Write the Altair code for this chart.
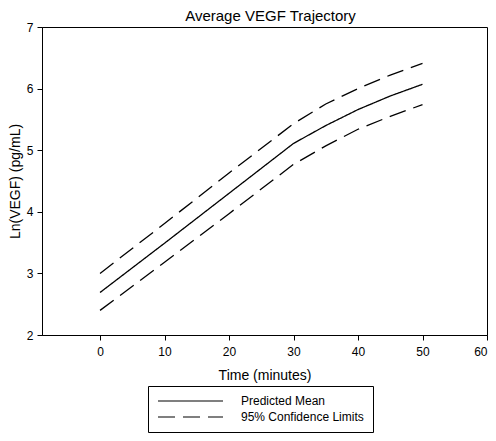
import altair as alt
import pandas as pd

time = [0, 10, 20, 30, 35, 40, 45, 50]
mean = [2.69, 3.49, 4.30, 5.11, 5.40, 5.66, 5.88, 6.07]
upper = [3.00, 3.81, 4.63, 5.43, 5.75, 6.00, 6.22, 6.41]
lower = [2.40, 3.18, 3.97, 4.77, 5.07, 5.34, 5.55, 5.74]
x_ticks = [0, 10, 20, 30, 40, 50, 60]
y_ticks = [2, 3, 4, 5, 6, 7]
kinds = ["Predicted Mean", "95% Confidence Limits"]

rows = []
for name, vals, kind in [("mean", mean, kinds[0]), ("upper", upper, kinds[1]), ("lower", lower, kinds[1])]:
    for t, v in zip(time, vals):
        rows.append({"time": t, "value": v, "series": name, "kind": kind})
df = pd.DataFrame(rows)

FONT = "Liberation Sans"

chart = alt.Chart(df).mark_line(color="black", strokeWidth=1.3).encode(
    x=alt.X("time:Q",
            scale=alt.Scale(domain=[-9, 60], nice=False, zero=False),
            axis=alt.Axis(values=x_ticks, title="Time (minutes)", grid=False,
                          domainColor="black", tickColor="black", tickSize=5,
                          labelFont=FONT, labelFontSize=12, labelColor="black",
                          labelPadding=6, titleFont=FONT, titleFontSize=14,
                          titleFontWeight="normal", titleColor="black", titlePadding=11)),
    y=alt.Y("value:Q",
            scale=alt.Scale(domain=[2, 7], nice=False, zero=False),
            axis=alt.Axis(values=y_ticks, title="Ln(VEGF) (pg/mL)", grid=False,
                          domainColor="black", tickColor="black", tickSize=5,
                          labelFont=FONT, labelFontSize=12, labelColor="black",
                          labelPadding=4, titleFont=FONT, titleFontSize=14,
                          titleFontWeight="normal", titleColor="black",
                          titleX=-27, titleBaseline="middle")),
    strokeDash=alt.StrokeDash("kind:N",
                              scale=alt.Scale(domain=kinds, range=[[1, 0], [17, 8]]),
                              legend=alt.Legend(orient="none", legendX=106, legendY=359,
                                                title=None, symbolType="stroke",
                                                symbolSize=4225, clipHeight=12,
                                                symbolStrokeWidth=1.2,
                                                symbolStrokeColor="black",
                                                labelFont=FONT, labelFontSize=12,
                                                labelColor="black", labelOffset=17,
                                                strokeColor="black", padding=9,
                                                rowPadding=4, direction="vertical")),
    detail="series:N",
).properties(
    width=445, height=308,
    title=alt.TitleParams("Average VEGF Trajectory", font=FONT, fontSize=15,
                          fontWeight="normal", color="black", offset=-3, dx=6),
    autosize=alt.AutoSizeParams(type="none"),
    padding={"left": 34, "top": 19, "right": 1, "bottom": 98},
).configure_view(stroke="black", strokeWidth=1)

chart.save("out.html", embed_options={"renderer": "svg", "actions": False})
